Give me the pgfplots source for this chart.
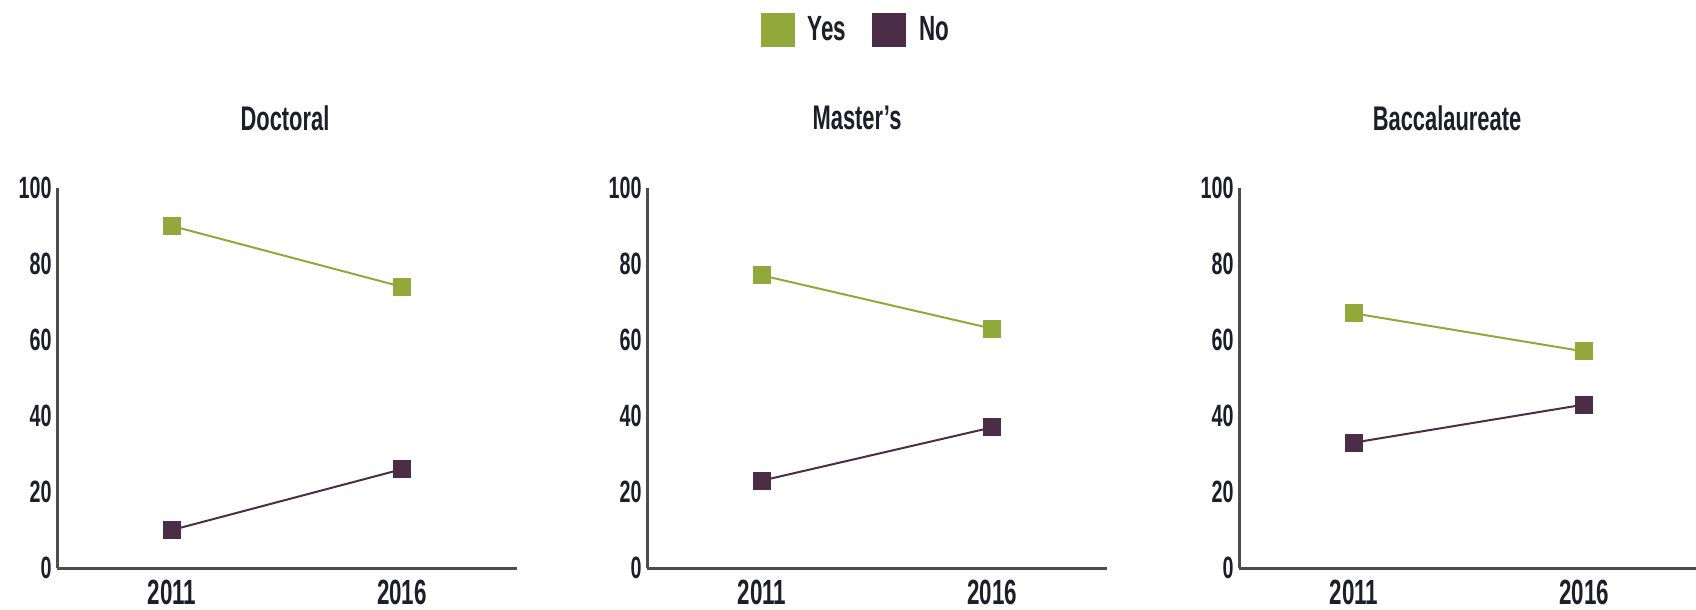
\documentclass[border=0pt]{standalone}
\usepackage{pgfplots}
\pgfplotsset{compat=1.18}
\usepackage{fontspec}
\setmainfont{Liberation Sans}[FakeStretch=0.64]
\definecolor{yesc}{HTML}{93A83A}
\definecolor{noc}{HTML}{4B2D48}
\definecolor{txt}{HTML}{1E1E2A}
\definecolor{axc}{HTML}{4D4D4D}
\pgfplotsset{
  panel/.style={
    scale only axis, width=230bp, height=190bp,
    xmin=-0.5, xmax=1.5, ymin=0, ymax=100,
    axis x line=bottom, axis y line=left,
    axis line style={-, axc, line width=1.5bp},
    xtick={0,1}, xticklabels={2011,2016},
    ytick={0,20,...,100},
    major tick length=0pt, tick style={draw=none},
    /pgf/number format/assume math mode=true,
    yticklabel style={font=\fontsize{15.4bp}{16bp}\selectfont\bfseries, text=txt, inner sep=0pt, xshift=-2.5bp},
    xticklabel style={font=\fontsize{17.5bp}{18bp}\selectfont\bfseries, text=txt, inner sep=0pt, yshift=-6bp},
    title style={font=\fontsize{17.1bp}{18bp}\selectfont\bfseries, text=txt, at={(rel axis cs:0.5,1)}, anchor=center, inner sep=0pt, yshift=29bp},
    every axis plot/.append style={line width=1bp, mark=square*, mark size=4bp, mark options={solid}},
    clip=false,
  }
}
\begin{document}
\begin{tikzpicture}
\path[use as bounding box] (0,0) rectangle (848bp,305bp);
\begin{axis}[panel, at={(28.5bp,21bp)}, anchor=south west, title={Doctoral}, title style={xshift=-1bp}]
\addplot[color=yesc] coordinates {(0,90) (1,74)};
\addplot[color=noc] coordinates {(0,10) (1,26)};
\end{axis}
\begin{axis}[panel, at={(323.5bp,21bp)}, anchor=south west, title={Master’s}, title style={xshift=-10bp},
  legend columns=-1,
  legend style={at={(rel axis cs:0.452,1.415)}, anchor=center, draw=none, fill=none, inner sep=0pt,
    font=\fontsize{17.5bp}{18bp}\selectfont\bfseries, text=txt,
    nodes={inner sep=0pt},
    /tikz/every odd column/.append style={column sep=6.5bp},
    /tikz/every even column/.append style={column sep=13bp}}]
\addlegendimage{legend image code/.code={\fill[yesc] (0bp,-8bp) rectangle (16bp,8bp);}}
\addlegendentry{Yes}
\addlegendimage{legend image code/.code={\fill[noc] (0bp,-8bp) rectangle (16bp,8bp);}}
\addlegendentry{No}
\addplot[color=yesc, forget plot] coordinates {(0,77) (1,63)};
\addplot[color=noc, forget plot] coordinates {(0,23) (1,37)};
\end{axis}
\begin{axis}[panel, at={(619.5bp,21bp)}, anchor=south west, title={Baccalaureate}, title style={xshift=-11bp}]
\addplot[color=yesc] coordinates {(0,67) (1,57)};
\addplot[color=noc] coordinates {(0,33) (1,43)};
\end{axis}
\end{tikzpicture}
\end{document}
